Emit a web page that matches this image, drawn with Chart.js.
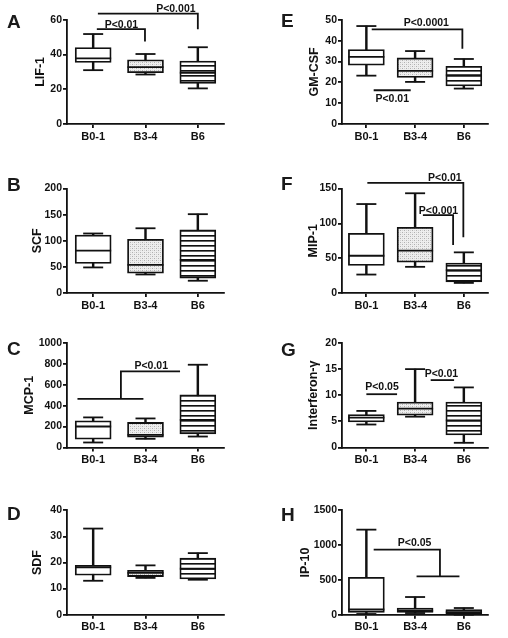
<!DOCTYPE html>
<html>
<head>
<meta charset="utf-8">
<script src="https://cdn.jsdelivr.net/npm/chart.js@4.4.1/dist/chart.umd.min.js"></script>
<style>
  body { margin: 0; background: #fff; }
  #fig { position: relative; width: 508px; height: 638px; background: #fff; overflow: hidden; }
  #fig canvas { position: absolute; }
  .tag { position: absolute; font: bold 19px/19px 'Liberation Sans', Arial, sans-serif; color: #1a1a1a; }
</style>
</head>
<body>
<div id="fig"></div>
<script>
const categories = ['B0-1', 'B3-4', 'B6'];

// box data per group: [min, q1, median, q3, max]
const lif1 = [[31, 35.5, 37.8, 44, 51.8], [28.5, 29.5, 32.8, 37, 40.3], [20.5, 23.3, 29.5, 36.2, 44.2]];
const scf = [[49, 56.5, 81, 111, 114], [35.5, 38, 54, 103, 124], [23.5, 28.6, 63.5, 121, 151]];
const mcp1 = [[48, 80, 201, 256, 288], [83, 99, 120, 240, 278], [105, 131, 265, 505, 792]];
const sdf = [[13, 15.1, 18.1, 18.9, 33], [14.1, 14.6, 16, 17, 18.9], [13.4, 13.7, 17.6, 21.7, 23.6]];
const gmcsf = [[23.2, 28.2, 32.2, 35.7, 47], [20.2, 22.3, 25.5, 31.7, 35], [17, 18.3, 23.4, 27.7, 31.2]];
const mip1 = [[26.5, 39.6, 53.5, 85.9, 127.8], [37.6, 44.4, 60.8, 94.5, 143.3], [14.5, 16, 32.8, 42.9, 58.4]];
const ifng = [[4.4, 4.9, 5.7, 6.3, 7], [5.9, 6.2, 7.45, 8.7, 15], [0.9, 2.4, 5.2, 8.7, 11.5]];
const ip10 = [[10, 33, 75, 537, 1222], [24, 33, 57, 96, 254], [0, 10, 35, 72, 96]];

// y ticks
const lif1Ticks = [0, 20, 40, 60];
const scfTicks = [0, 50, 100, 150, 200];
const mcp1Ticks = [0, 200, 400, 600, 800, 1000];
const sdfTicks = [0, 10, 20, 30, 40];
const gmcsfTicks = [0, 10, 20, 30, 40, 50];
const mip1Ticks = [0, 50, 100, 150];
const ifngTicks = [0, 5, 10, 15, 20];
const ip10Ticks = [0, 500, 1000, 1500];

// significance brackets, in (group index, value) units
const lif1Brackets = [[[0.07, 54.6], [0.99, 54.6], [0.99, 47.5]], [[0.09, 63.5], [2, 63.5], [2, 54.6]]];
const lif1P = [['P<0.01', 0.54, 57.2], ['P<0.001', 1.58, 66.2]];
const mcp1Brackets = [[[-0.3, 466], [0.96, 466]], [[0.53, 466], [0.53, 728], [1.66, 728]]];
const mcp1P = [['P<0.01', 1.11, 783]];
const gmcsfBrackets = [[[0.11, 45.4], [1.97, 45.4], [1.97, 36.1]], [[0.15, 16.2], [0.91, 16.2]]];
const gmcsfP = [['P<0.0001', 1.23, 48.4], ['P<0.01', 0.53, 11.8]];
const mip1Brackets = [[[0.02, 158.2], [1.99, 158.2], [1.99, 80]], [[1.16, 111.9], [1.78, 111.9], [1.78, 69]]];
const mip1P = [['P<0.01', 1.61, 165.5], ['P<0.001', 1.48, 117]];
const ifngBrackets = [[[0, 10.2], [0.63, 10.2]], [[1.32, 12.9], [1.8, 12.9]]];
const ifngP = [['P<0.05', 0.32, 11.5], ['P<0.01', 1.54, 14.1]];
const ip10Brackets = [[[0.15, 934], [1.51, 934], [1.51, 551]], [[1.03, 551], [1.91, 551]]];
const ip10P = [['P<0.05', 0.99, 1030]];

const INK = '#111';
const FONT = "'Liberation Sans', Arial, sans-serif";
const LW = 1.8;

Chart.defaults.font.family = FONT;
Chart.defaults.font.weight = 'bold';
Chart.defaults.font.size = 10;
Chart.defaults.color = INK;

function makePattern(w, h, draw) {
  const c = document.createElement('canvas');
  c.width = w; c.height = h;
  const g = c.getContext('2d');
  draw(g);
  return g.createPattern(c, 'repeat');
}
const dotFill = makePattern(4, 4, g => {
  g.fillStyle = '#eeeeee'; g.fillRect(0, 0, 4, 4);
  g.fillStyle = '#b0b0b0'; g.fillRect(0, 0, 1, 1); g.fillRect(2, 2, 1, 1);
  g.fillStyle = '#d4d4d4'; g.fillRect(2, 0, 1, 1); g.fillRect(0, 2, 1, 1);
});
const stripeFill = makePattern(1, 5, g => {
  g.fillStyle = '#fff'; g.fillRect(0, 0, 1, 5);
  g.fillStyle = INK; g.fillRect(0, 0, 1, 1);
  g.fillStyle = '#666'; g.fillRect(0, 1, 1, 1);
});
const boxFills = ['#fff', dotFill, stripeFill];

// layout of the figure
const rows = [
  {top: 0, h: 160, areaTop: 19.7, areaBottom: 124},
  {top: 160, h: 160, areaTop: 188.6, areaBottom: 293},
  {top: 320, h: 158, areaTop: 343, areaBottom: 447.5},
  {top: 478, h: 160, areaTop: 510.3, areaBottom: 614.7}
];
const cols = [{left: 0, axisW: 67}, {left: 254, axisW: 88}];

const panels = [
  {tag: 'A', col: 0, row: 0, base: 28, title: 'LIF-1', box: lif1, ticks: lif1Ticks, titleX: 41, br: lif1Brackets, p: lif1P},
  {tag: 'B', col: 0, row: 1, base: 191, title: 'SCF', box: scf, ticks: scfTicks, titleX: 38, br: [], p: []},
  {tag: 'C', col: 0, row: 2, base: 355, title: 'MCP-1', box: mcp1, ticks: mcp1Ticks, titleX: 30, br: mcp1Brackets, p: mcp1P},
  {tag: 'D', col: 0, row: 3, base: 520, title: 'SDF', box: sdf, ticks: sdfTicks, titleX: 38, br: [], p: []},
  {tag: 'E', col: 1, row: 0, base: 27, title: 'GM-CSF', box: gmcsf, ticks: gmcsfTicks, titleX: 61, br: gmcsfBrackets, p: gmcsfP},
  {tag: 'F', col: 1, row: 1, base: 190, title: 'MIP-1', box: mip1, ticks: mip1Ticks, titleX: 60, br: mip1Brackets, p: mip1P},
  {tag: 'G', col: 1, row: 2, base: 356, title: 'Interferon-\u03b3', box: ifng, ticks: ifngTicks, titleX: 60, br: ifngBrackets, p: ifngP},
  {tag: 'H', col: 1, row: 3, base: 521, title: 'IP-10', box: ip10, ticks: ip10Ticks, titleX: 52, br: ip10Brackets, p: ip10P}
];

function pLabelPlugin(labels) {
  return {
    id: 'pLabels',
    afterDatasetsDraw(chart) {
      const {ctx, scales: {x, y}} = chart;
      ctx.save();
      ctx.font = 'bold 10.5px ' + FONT;
      ctx.fillStyle = INK;
      ctx.textAlign = 'center';
      ctx.textBaseline = 'middle';
      labels.forEach(([txt, xv, yv]) => ctx.fillText(txt, x.getPixelForValue(xv), y.getPixelForValue(yv)));
      ctx.restore();
    }
  };
}

function buildDatasets(groups, brackets) {
  const sets = [
    // whiskers
    {type: 'bar', data: groups.map((g, i) => ({x: i, y: [g[0], g[4]]})), backgroundColor: INK,
     barThickness: LW, grouped: false, borderWidth: 0, order: 5},
    // boxes
    {type: 'bar', data: groups.map((g, i) => ({x: i, y: [g[1], g[3]]})), backgroundColor: boxFills,
     borderColor: INK, borderWidth: LW, borderSkipped: false, barThickness: 36, grouped: false, order: 4},
    // whisker caps
    {type: 'scatter', data: groups.flatMap((g, i) => [{x: i, y: g[0]}, {x: i, y: g[4]}]),
     pointStyle: 'line', pointRadius: 10, borderColor: INK, borderWidth: LW, clip: false, order: 2},
    // medians
    {type: 'scatter', data: groups.map((g, i) => ({x: i, y: g[2]})),
     pointStyle: 'line', pointRadius: 18, borderColor: INK, borderWidth: LW, clip: false, order: 1}
  ];
  brackets.forEach(b => sets.push({
    type: 'line', data: b.map(([x, y]) => ({x, y})), borderColor: INK, borderWidth: LW,
    pointRadius: 0, fill: false, tension: 0, clip: false, order: 0
  }));
  return sets;
}

const fig = document.getElementById('fig');

panels.forEach(p => {
  const row = rows[p.row], col = cols[p.col];
  const canvas = document.createElement('canvas');
  canvas.width = 254;
  canvas.height = row.h;
  canvas.style.left = col.left + 'px';
  canvas.style.top = row.top + 'px';
  fig.appendChild(canvas);

  const tag = document.createElement('div');
  tag.className = 'tag';
  tag.textContent = p.tag;
  tag.style.left = (col.left + (p.col ? 27 : 7)) + 'px';
  tag.style.top = (p.base - 16) + 'px';
  fig.appendChild(tag);

  const xAxisH = 30;
  const padTop = row.areaTop - row.top;
  const padBottom = row.h - (row.areaBottom - row.top) - xAxisH;
  const padRight = 254 - col.axisW - 157;

  new Chart(canvas, {
    type: 'bar',
    data: {datasets: buildDatasets(p.box, p.br)},
    options: {
      responsive: false,
      animation: false,
      events: [],
      layout: {padding: {left: 0, top: padTop, right: padRight, bottom: padBottom}},
      plugins: {legend: {display: false}, tooltip: {enabled: false}},
      scales: {
        x: {
          type: 'linear', min: -0.5, max: 2.5, offset: false,
          afterBuildTicks: s => { s.ticks = categories.map((c, i) => ({value: i})); },
          afterFit: s => { s.height = xAxisH; },
          ticks: {callback: v => categories[v], maxRotation: 0, padding: 2, font: {size: 11, weight: 'bold'}},
          grid: {drawOnChartArea: false, offset: false, tickLength: 4, color: INK, lineWidth: LW},
          border: {color: INK, width: LW}
        },
        y: {
          min: 0, max: p.ticks[p.ticks.length - 1],
          afterBuildTicks: s => { s.ticks = p.ticks.map(v => ({value: v})); },
          afterFit: s => { s.width = col.axisW; },
          ticks: {callback: v => String(v), padding: 1, font: {size: 10.5, weight: 'bold'}},
          grid: {drawOnChartArea: false, tickLength: 4, color: INK, lineWidth: LW},
          border: {color: INK, width: LW},
          title: {display: true, text: p.title, font: {size: 12.5, weight: 'bold'}, padding: {top: p.titleX - 7.5, bottom: 0}}
        }
      }
    },
    plugins: [pLabelPlugin(p.p)]
  });
});
</script>
</body>
</html>
